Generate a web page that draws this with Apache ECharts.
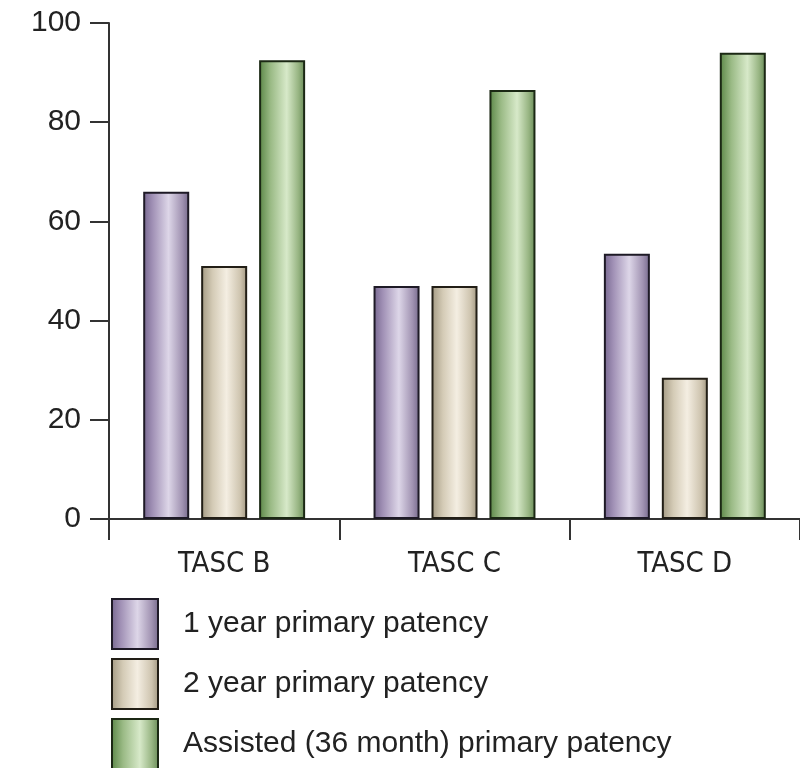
<!DOCTYPE html>
<html><head><meta charset="utf-8">
<script src="https://cdn.jsdelivr.net/npm/echarts@6/dist/echarts.min.js"></script>
<style>html,body{margin:0;padding:0;background:#fff}#c{width:800px;height:768px}</style>
</head><body><div id="c"></div>
<script>
const categories = ['TASC B', 'TASC C', 'TASC D'];
const seriesNames = ['1 year primary patency', '2 year primary patency', 'Assisted (36 month) primary patency'];
const oneYear = [66, 47, 53.5];
const twoYear = [51, 47, 28.5];
const assisted = [92.5, 86.5, 94];
const yTicks = [0, 20, 40, 60, 80, 100];

function grad(stops){
  return new echarts.graphic.LinearGradient(0,0,1,0, stops.map(s=>({offset:s[0],color:s[1]})));
}
const styles = [
  {color: grad([[0,'#76678f'],[0.2,'#a090b5'],[0.55,'#ddd6e8'],[0.85,'#a092b1'],[1,'#74688a']]), borderColor:'#1e1a26'},
  {color: grad([[0,'#a39982'],[0.25,'#d4cbb6'],[0.55,'#f4eee2'],[0.85,'#cec4af'],[1,'#a09680']]), borderColor:'#221e16'},
  {color: grad([[0,'#5a8646'],[0.25,'#9aba85'],[0.6,'#d7e9c9'],[0.85,'#98b583'],[1,'#678a56']]), borderColor:'#1b2814'}
];
const data = [oneYear, twoYear, assisted];
const font = '"Liberation Sans", Arial, sans-serif';
const chart = echarts.init(document.getElementById('c'), null, {renderer:'canvas'});
chart.setOption({
  animation: false,
  grid: {left: 109, right: 0, top: 23, bottom: 249, containLabel: false},
  legend: seriesNames.map((n, i) => ({
    orient: 'vertical', left: 111, top: 598 + i * 60, padding: 0, itemWidth: 46, itemHeight: 50,
    icon: 'rect', selectedMode: false,
    textStyle: {fontFamily: font, fontSize: 30, color: '#222', padding: [10,0,0,20]},
    data: [n]
  })),
  xAxis: {
    type: 'category', data: categories,
    axisLine: {lineStyle: {color: '#333', width: 2}},
    axisTick: {show: true, length: 21, lineStyle: {color: '#333', width: 2}},
    axisLabel: {fontFamily: '"DejaVu Sans Condensed", "Liberation Sans", sans-serif', fontSize: 29, color: '#222', margin: 31}
  },
  yAxis: {
    type: 'value', min: 0, max: 100, interval: 20,
    splitLine: {show: false},
    axisLine: {show: true, lineStyle: {color: '#333', width: 2}},
    axisTick: {show: true, length: 19, lineStyle: {color: '#333', width: 2}},
    axisLabel: {fontFamily: font, fontSize: 30, color: '#222', margin: 28,
      formatter: v => yTicks.includes(v) ? String(v) : ''}
  },
  series: data.map((d,i)=>({
    name: seriesNames[i], type: 'bar', data: d,
    barWidth: 46, barGap: '26%',
    itemStyle: {color: styles[i].color, borderColor: styles[i].borderColor, borderWidth: 2}
  }))
});
</script></body></html>
